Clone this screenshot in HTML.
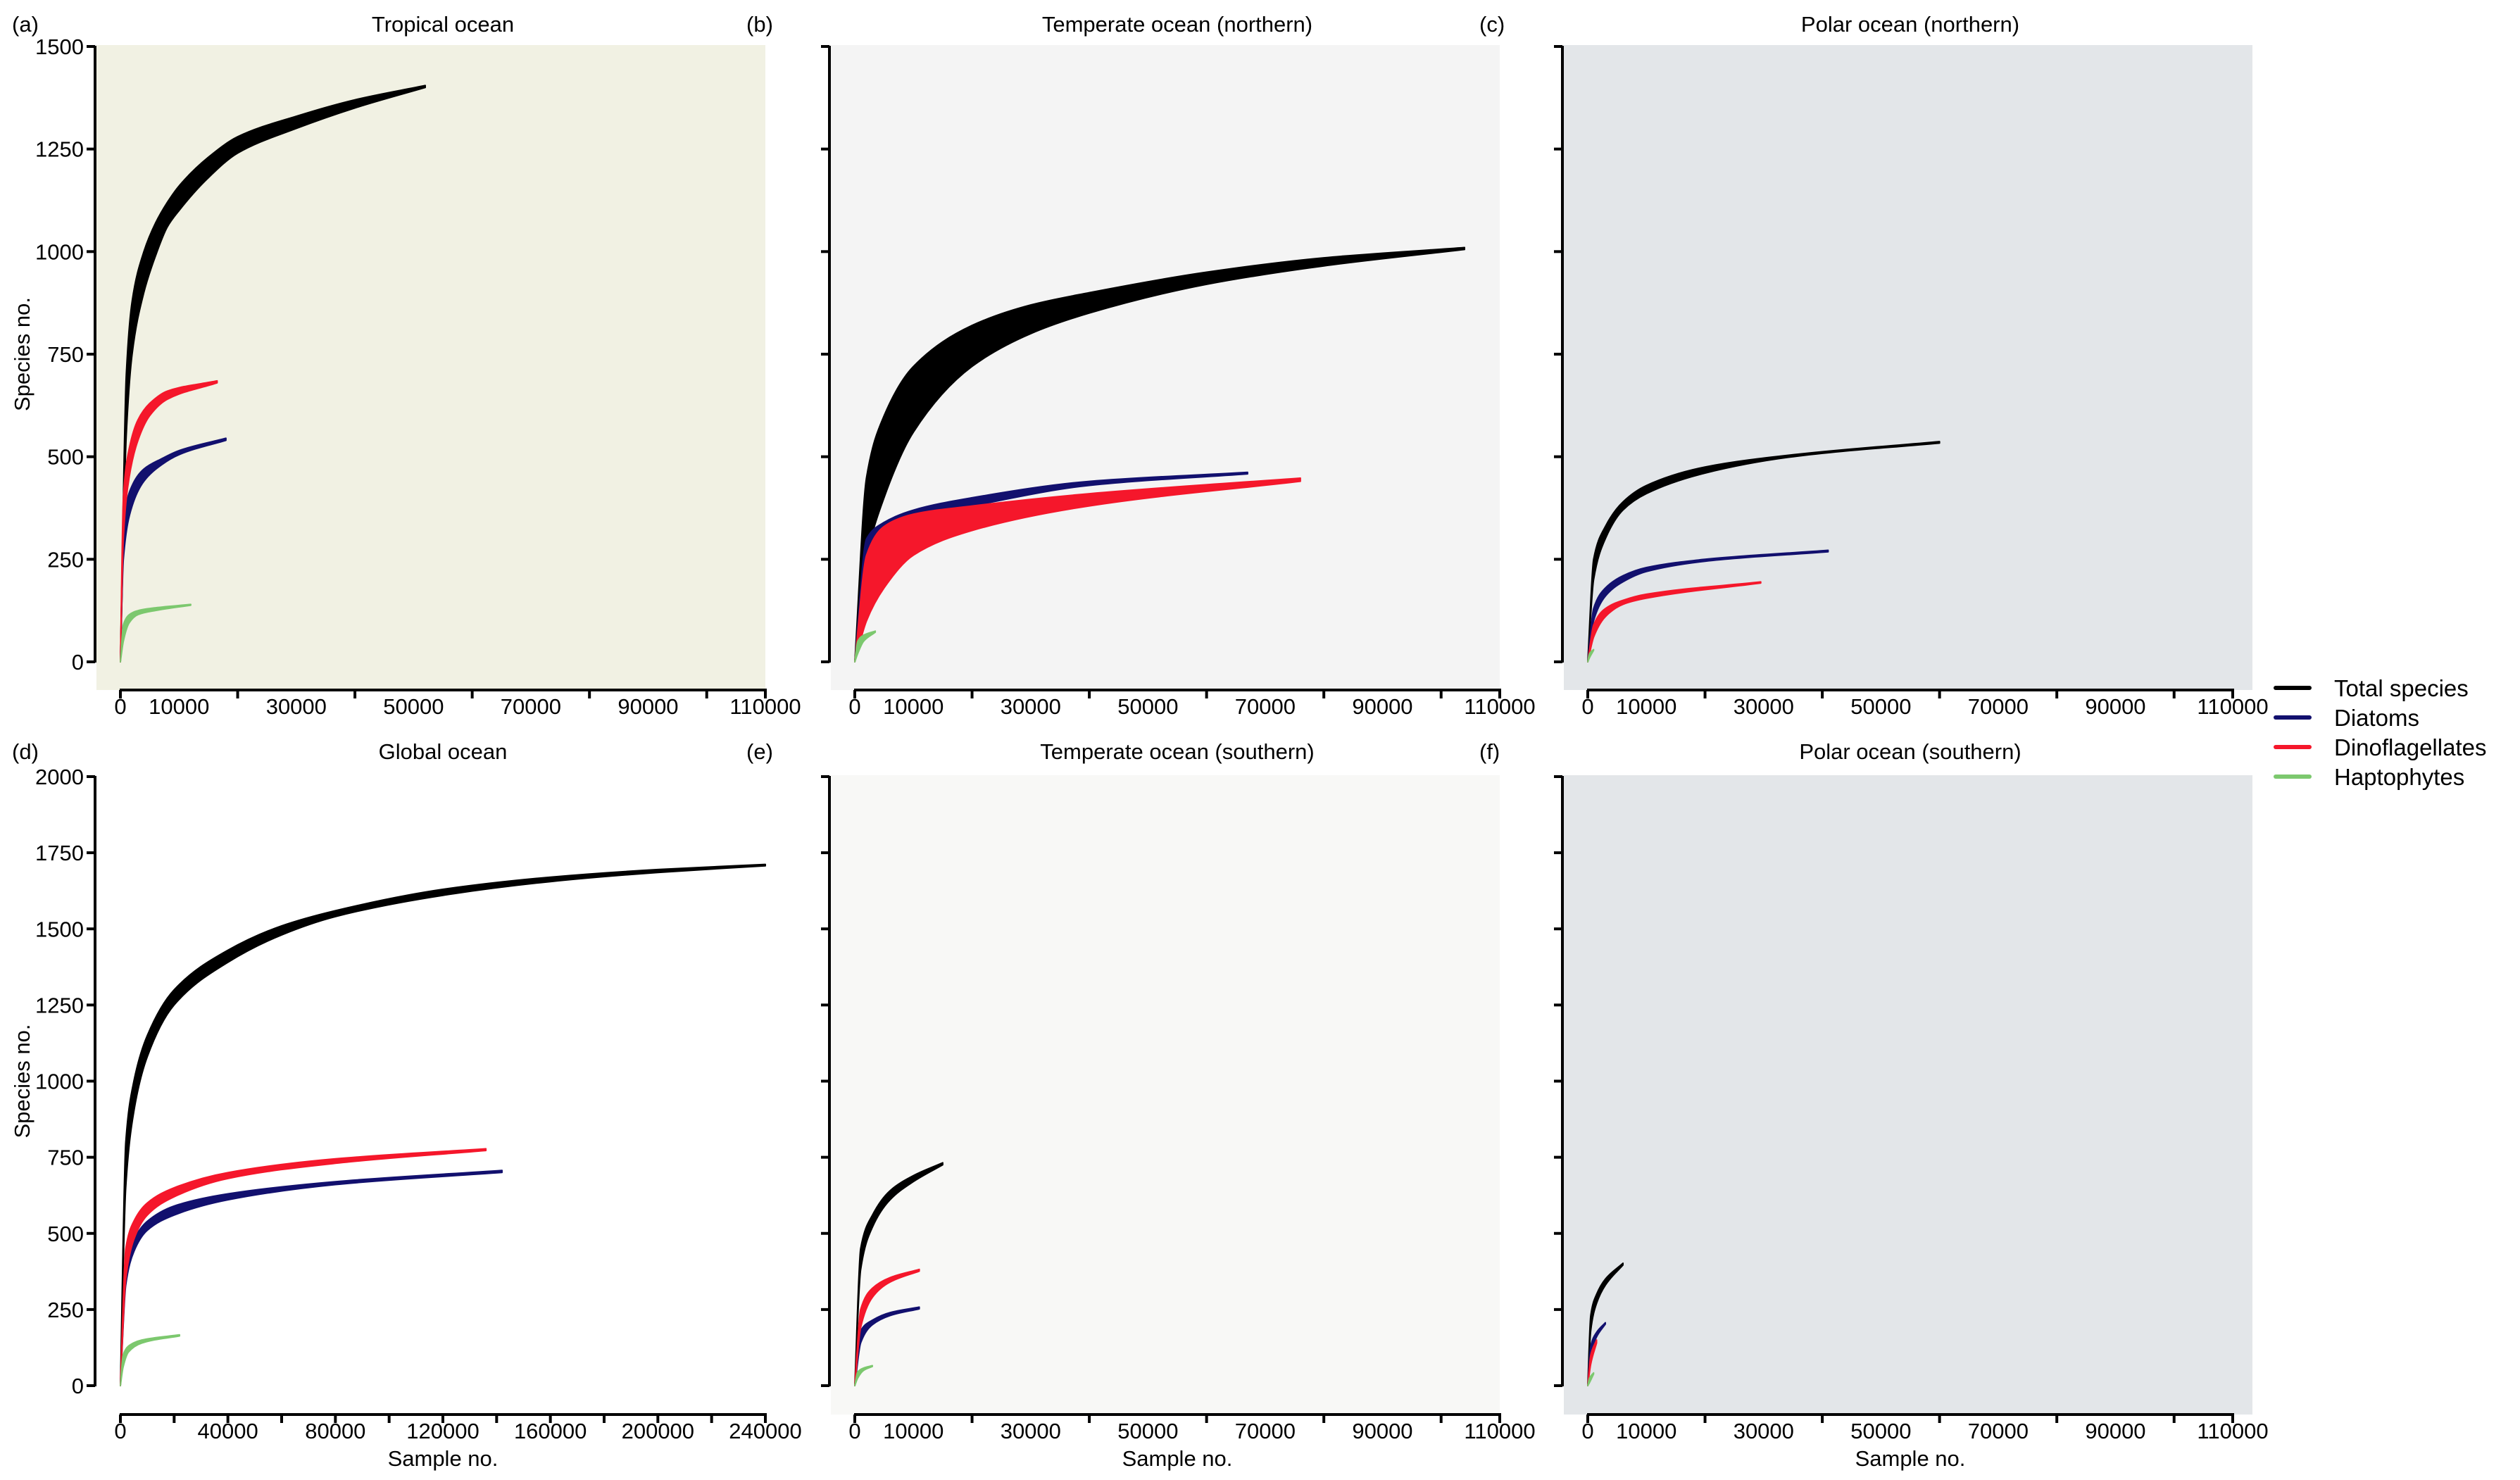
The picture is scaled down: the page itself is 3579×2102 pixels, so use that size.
<!DOCTYPE html>
<html><head><meta charset="utf-8"><style>
html,body{margin:0;padding:0;background:#fff}
svg{display:block}
text{font-family:"Liberation Sans",sans-serif;fill:#000}
</style></head><body>
<svg id="chart" width="3579" height="2102" viewBox="0 0 3579 2102" xmlns="http://www.w3.org/2000/svg"></svg>
<script>
// ---- data ----
const seriesNames = ["Total species","Diatoms","Dinoflagellates","Haptophytes"];
const seriesColors = ["#000000","#12106e","#f5172b","#7cc86e"];
const panelTitles = ["Tropical ocean","Temperate ocean (northern)","Polar ocean (northern)","Global ocean","Temperate ocean (southern)","Polar ocean (southern)"];
const panelLetters = ["(a)","(b)","(c)","(d)","(e)","(f)"];
const topYTicks = [0,250,500,750,1000,1250,1500];
const botYTicks = [0,250,500,750,1000,1250,1500,1750,2000];
const xLabels110 = [0,10000,30000,50000,70000,90000,110000];
const xTicks110 = [0,20000,40000,60000,80000,100000,110000];
const xLabels240 = [0,40000,80000,120000,160000,200000,240000];
const xTicks240 = [0,20000,40000,60000,80000,100000,120000,140000,160000,180000,200000,220000,240000];

// panel a
const aTotX=[0,1000,2000,4000,6000,8000,10000,15000,20000,30000,40000,52000];
const aTotHi=[0,700,880,1000,1070,1120,1160,1230,1280,1330,1370,1405];
const aTotLo=[0,550,750,900,990,1060,1100,1180,1240,1300,1350,1400];
const aDiaX=[0,500,2000,4000,7000,10000,18000];
const aDiaHi=[0,330,430,470,495,515,545];
const aDiaLo=[0,250,380,440,480,505,540];
const aDinX=[0,500,1500,3000,5000,8000,16500];
const aDinHi=[0,400,520,590,630,660,685];
const aDinLo=[0,300,450,540,600,640,680];
const aHapX=[0,500,1500,3000,6000,12000];
const aHapHi=[0,90,115,125,132,140];
const aHapLo=[0,50,95,115,125,138];
// panel b
const bTotX=[0,2000,5000,10000,20000,30000,40000,60000,80000,104000];
const bTotHi=[0,450,600,720,820,870,900,950,985,1010];
const bTotLo=[0,250,400,560,720,800,850,920,965,1005];
const bDiaX=[0,2000,5000,10000,20000,40000,67000];
const bDiaHi=[0,300,340,370,400,440,462];
const bDiaLo=[0,240,300,350,380,430,458];
const bDinX=[0,2000,5000,10000,20000,40000,76000];
const bDinHi=[0,260,330,360,380,410,448];
const bDinLo=[0,100,180,260,320,380,440];
const bHapX=[0,500,1500,3500];
const bHapHi=[0,50,65,75];
const bHapLo=[0,20,50,72];
// panel c
const cTotX=[0,1000,3000,6000,10000,20000,35000,60000];
const cTotHi=[0,250,330,390,430,475,505,537];
const cTotLo=[0,200,300,370,410,460,500,533];
const cDiaX=[0,1000,3000,6000,10000,20000,41000];
const cDiaHi=[0,130,180,210,230,250,272];
const cDiaLo=[0,100,160,195,220,245,268];
const cDinX=[0,1000,3000,6000,10000,29500];
const cDinHi=[0,90,130,150,165,195];
const cDinLo=[0,60,110,140,155,192];
const cHapX=[0,300,1000];
const cHapHi=[0,20,30];
const cHapLo=[0,10,28];
// panel d
const dTotX=[0,2000,5000,10000,20000,40000,60000,80000,120000,160000,200000,240000];
const dTotHi=[0,800,1000,1150,1300,1430,1510,1560,1630,1670,1695,1712];
const dTotLo=[0,650,900,1080,1250,1390,1480,1540,1610,1655,1685,1707];
const dDiaX=[0,2000,5000,10000,20000,40000,80000,142000];
const dDiaHi=[0,400,480,540,590,630,670,707];
const dDiaLo=[0,330,440,510,560,610,660,700];
const dDinX=[0,2000,5000,10000,20000,40000,80000,136000];
const dDinHi=[0,450,540,600,650,700,745,778];
const dDinLo=[0,350,480,560,620,680,730,772];
const dHapX=[0,1000,3000,8000,22000];
const dHapHi=[0,100,130,150,167];
const dHapLo=[0,60,110,140,163];
// panel e
const eTotX=[0,1000,3000,6000,10000,15000];
const eTotHi=[0,450,560,640,690,732];
const eTotLo=[0,380,520,610,670,725];
const eDiaX=[0,1000,3000,6000,11000];
const eDiaHi=[0,180,215,240,258];
const eDiaLo=[0,140,200,230,252];
const eDinX=[0,1000,3000,6000,11000];
const eDinHi=[0,250,320,355,382];
const eDinLo=[0,190,290,340,376];
const eHapX=[0,500,1500,3000];
const eHapHi=[0,45,58,66];
const eHapLo=[0,25,50,63];
// panel f
const fTotX=[0,500,1500,3000,6000];
const fTotHi=[0,230,300,350,402];
const fTotLo=[0,180,270,330,396];
const fDiaX=[0,500,1500,3000];
const fDiaHi=[0,130,175,207];
const fDiaLo=[0,100,160,202];
const fDinX=[0,500,1500];
const fDinHi=[0,100,150];
const fDinLo=[0,70,140];
const fHapX=[0,300,1000];
const fHapHi=[0,25,42];
const fHapLo=[0,10,38];

const svg=document.getElementById('chart');
const NS='http://www.w3.org/2000/svg';
function mk(tag,attrs,parent){const e=document.createElementNS(NS,tag);for(const k in attrs)e.setAttribute(k,attrs[k]);(parent||svg).appendChild(e);return e;}

// monotone cubic path through pixel points (x increasing)
function monoSeg(pts){
  const n=pts.length; if(n<2) return '';
  const dx=[],s=[];
  for(let i=0;i<n-1;i++){dx.push(pts[i+1][0]-pts[i][0]);s.push((pts[i+1][1]-pts[i][1])/(dx[i]||1e-6));}
  const m=[s[0]];
  for(let i=1;i<n-1;i++){m.push(s[i-1]*s[i]<=0?0:(3*(dx[i-1]+dx[i]))/((2*dx[i]+dx[i-1])/s[i-1]+(dx[i]+2*dx[i-1])/s[i]));}
  m.push(s[n-2]);
  let d='';
  for(let i=0;i<n-1;i++){
    const h=dx[i];
    d+=' C'+(pts[i][0]+h/3).toFixed(1)+','+(pts[i][1]+m[i]*h/3).toFixed(1)+' '+(pts[i+1][0]-h/3).toFixed(1)+','+(pts[i+1][1]-m[i+1]*h/3).toFixed(1)+' '+pts[i+1][0].toFixed(1)+','+pts[i+1][1].toFixed(1);
  }
  return d;
}
function monoSegRev(pts){
  // traverse reversed: build forward then reverse via mirrored x
  const n=pts.length;
  const mir=pts.map(p=>[-p[0],p[1]]).reverse();
  const d=monoSeg(mir);
  return d.replace(/(-?\d+\.?\d*),(-?\d+\.?\d*)/g,(a,x,y)=>(-parseFloat(x)).toFixed(1)+','+y);
}

const panels=[
 {ax:135,bg:'#f1f1e3',top:true,xmax:110000,ymax:1500,yl:true,xl:xLabels110,xt:xTicks110,ext:0,
  s:[[aTotX,aTotLo,aTotHi],[aDiaX,aDiaLo,aDiaHi],[aDinX,aDinLo,aDinHi],[aHapX,aHapLo,aHapHi]]},
 {ax:1178,bg:'#f4f4f4',top:true,xmax:110000,ymax:1500,yl:false,xl:xLabels110,xt:xTicks110,ext:0,
  s:[[bTotX,bTotLo,bTotHi],[bDiaX,bDiaLo,bDiaHi],[bDinX,bDinLo,bDinHi],[bHapX,bHapLo,bHapHi]]},
 {ax:2219,bg:'#e3e6e9',top:true,xmax:110000,ymax:1500,yl:false,xl:xLabels110,xt:xTicks110,ext:28,
  s:[[cTotX,cTotLo,cTotHi],[cDiaX,cDiaLo,cDiaHi],[cDinX,cDinLo,cDinHi],[cHapX,cHapLo,cHapHi]]},
 {ax:135,bg:'#ffffff',top:false,xmax:240000,ymax:2000,yl:true,xl:xLabels240,xt:xTicks240,ext:0,
  s:[[dTotX,dTotLo,dTotHi],[dDiaX,dDiaLo,dDiaHi],[dDinX,dDinLo,dDinHi],[dHapX,dHapLo,dHapHi]]},
 {ax:1178,bg:'#f8f8f6',top:false,xmax:110000,ymax:2000,yl:false,xl:xLabels110,xt:xTicks110,ext:0,
  s:[[eTotX,eTotLo,eTotHi],[eDiaX,eDiaLo,eDiaHi],[eDinX,eDinLo,eDinHi],[eHapX,eHapLo,eHapHi]]},
 {ax:2219,bg:'#e3e6e9',top:false,xmax:110000,ymax:2000,yl:false,xl:xLabels110,xt:xTicks110,ext:28,
  s:[[fTotX,fTotLo,fTotHi],[fDiaX,fDiaLo,fDiaHi],[fDinX,fDinLo,fDinHi],[fHapX,fHapLo,fHapHi]]}
];

panels.forEach((p,i)=>{
  const g=mk('g',{});
  
  
  const yTop=p.top?66:1103, y0=p.top?940:1968, xAxisY=p.top?980:2009;
  const x0=p.ax+36, x1=x0+916;
  const X=v=>x0+(v/p.xmax)*(x1-x0);
  const Y=v=>y0-(v/p.ymax)*(y0-yTop);
  const bg=mk('rect',{x:p.ax+2,y:yTop-2,width:x1-p.ax-2+p.ext,height:xAxisY-yTop+2,fill:p.bg},g);
  
  
  p.s.forEach((sr,k)=>{
    const [xs,lo,hi]=sr;
    const hp=xs.map((x,j)=>[X(x),Y(hi[j])]);
    const lp=xs.map((x,j)=>[X(x),Y(lo[j])]);
    let d='M'+hp[0][0].toFixed(1)+','+hp[0][1].toFixed(1)+monoSeg(hp);
    const last=lp[lp.length-1];
    d+=' L'+last[0].toFixed(1)+','+last[1].toFixed(1)+monoSegRev(lp)+'Z';
    const path=mk('path',{d:d,fill:seriesColors[k],stroke:seriesColors[k],'stroke-width':2,'stroke-linejoin':'round'},g);
    
    
  });
  const ya=mk('line',{x1:p.ax,y1:Y(p.ymax)-1,x2:p.ax,y2:y0+1,stroke:'#000','stroke-width':4},g);
  
  
  (p.top?topYTicks:botYTicks).forEach(t=>{
    mk('line',{x1:p.ax-12,y1:Y(t),x2:p.ax,y2:Y(t),stroke:'#000','stroke-width':4},g);
    if(p.yl){const tx=mk('text',{x:p.ax-16,y:Y(t)+11,'text-anchor':'end','font-size':31},g);tx.textContent=t;
      
      }
  });
  const xa=mk('line',{x1:x0-1,y1:xAxisY,x2:x1+2,y2:xAxisY,stroke:'#000','stroke-width':4},g);
  
  
  p.xt.forEach(t=>mk('line',{x1:X(t),y1:xAxisY,x2:X(t),y2:xAxisY+12,stroke:'#000','stroke-width':4},g));
  p.xl.forEach(t=>{const tx=mk('text',{x:X(t),y:xAxisY+34,'text-anchor':'middle','font-size':31},g);tx.textContent=t;
    
    });
  const tt=mk('text',{x:(x0+x1)/2,y:p.top?45:1078,'text-anchor':'middle','font-size':31},g);tt.textContent=panelTitles[i];
  
  
  const lt=mk('text',{x:p.ax-118,y:p.top?45:1078,'font-size':31},g);lt.textContent=panelLetters[i];
  
  
  if(p.yl){const yl=mk('text',{x:0,y:0,'text-anchor':'middle','font-size':31,transform:'translate(42,'+((yTop+y0)/2)+') rotate(-90)'},g);yl.textContent='Species no.';
    
    }
  if(!p.top){const xl=mk('text',{x:(x0+x1)/2,y:2082,'text-anchor':'middle','font-size':31},g);xl.textContent='Sample no.';
    
    }
});

const lg=mk('g',{});


seriesNames.forEach((n,k)=>{
  const y=977+k*42;
  const e=mk('g',{},lg);
  
  
  mk('line',{x1:3232,y1:y,x2:3280,y2:y,stroke:seriesColors[k],'stroke-width':6,'stroke-linecap':'round'},e);
  const t=mk('text',{x:3315,y:y+12,'font-size':33},e);t.textContent=n;
});
</script>
</body></html>
